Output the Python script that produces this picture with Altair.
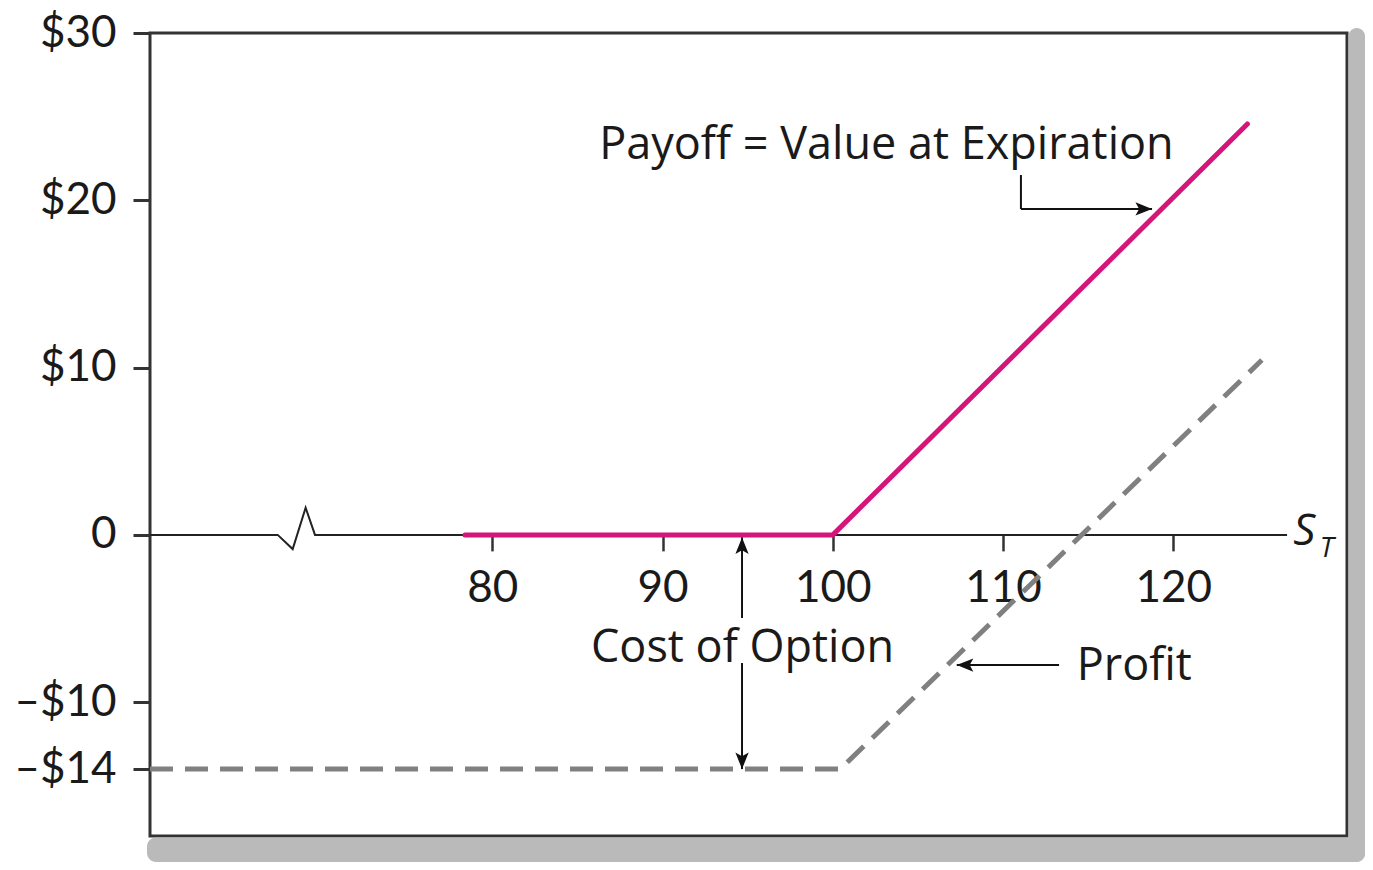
import altair as alt
import pandas as pd

# ---------------- data ----------------
x_ticks = [80, 90, 100, 110, 120]
y_ticks = [30, 20, 10, 0, -10, -14]
y_tick_labels = ["$30", "$20", "$10", "0", "–$10", "–$14"]

x_domain = [59.9, 130.2]
y_domain = [-18, 30]

# payoff = value at expiration (long call, strike 100)
payoff_x = [78.4, 100, 124.35]
payoff_y = [0, 0, 24.56]

# profit = payoff - cost of option
profit_x = [59.9, 100.44, 125.2]
profit_y = [-14, -14, 10.45]

# horizontal S_T axis with a break mark
axis_x = [59.9, 67.40, 68.28, 69.04, 69.59, 126.68]
axis_y = [0, 0, -0.85, 1.62, 0, 0]

# annotation arrows: segments and heads
seg_x = [111.05, 111.05, 94.67, 94.67, 113.29]
seg_y = [21.51, 19.48, -4.97, -7.66, -7.78]
seg_x2 = [111.05, 118.75, 94.67, 94.67, 107.28]
seg_y2 = [19.48, 19.48, -0.15, -14, -7.78]
head_x = [118.75, 94.67, 94.67, 107.28]
head_y = [19.48, -0.15, -14, -7.78]
head_angle = [0, 270, 90, 180]

# annotation texts
note_text = ["Payoff = Value at Expiration", "Cost of Option", "Profit"]
note_x = [103.15, 94.7, 114.33]
note_y = [22.45, -7.6, -8.67]
note_align = ["center", "center", "left"]

axis_name = ["S", "T"]
axis_name_x = [127.05, 128.6]
axis_name_y = [-0.61, -1.3]
axis_name_size = [44, 28]

# ---------------- layout ----------------
W, H = 1197, 803
FONT = "Lato"
NOTE_FONT = "Open Sans"
INK = "#1a1a1a"

xs = alt.Scale(domain=x_domain, nice=False, zero=False)
ys = alt.Scale(domain=y_domain, nice=False, zero=False)

zero_px = H * (y_domain[1] - 0) / (y_domain[1] - y_domain[0])
x_offset = -(H - zero_px)

label_expr = " : ".join(
    f"datum.value == {v} ? '{l}'" for v, l in zip(y_ticks, y_tick_labels)
) + " : ''"

x_axis = alt.Axis(
    values=x_ticks, domain=False, grid=False, ticks=True, tickSize=16,
    tickWidth=2.5, tickColor="#333", labelFontSize=44, labelFont=FONT,
    labelColor=INK, labelPadding=16, offset=x_offset, title=None,
)
y_axis = alt.Axis(
    values=y_ticks, domain=False, grid=False, ticks=True, tickSize=17,
    tickWidth=3, tickColor="#333", labelFontSize=44, labelFont=FONT,
    labelColor=INK, labelPadding=17, labelExpr=label_expr, title=None,
)

SH = "#bababa"
shadow_right = alt.Chart(pd.DataFrame({"a": [0]})).mark_rect(
    color=SH, cornerRadius=9
).encode(x=alt.value(W + 1.5), x2=alt.value(W + 18), y=alt.value(-5), y2=alt.value(H + 26))
shadow_bottom = alt.Chart(pd.DataFrame({"a": [0]})).mark_rect(
    color=SH, cornerRadius=9
).encode(x=alt.value(-3), x2=alt.value(W + 18), y=alt.value(H + 1.5), y2=alt.value(H + 26))

axis_df = pd.DataFrame({"x": axis_x, "y": axis_y, "o": list(range(len(axis_x)))})
axis_line = alt.Chart(axis_df).mark_line(color="#222", strokeWidth=2).encode(
    x=alt.X("x:Q", scale=xs, axis=x_axis),
    y=alt.Y("y:Q", scale=ys, axis=y_axis),
    order="o:Q",
)

profit_df = pd.DataFrame({"x": profit_x, "y": profit_y})
profit = alt.Chart(profit_df).mark_line(
    color="#808080", strokeWidth=5, strokeDash=[23, 12]
).encode(x=alt.X("x:Q", scale=xs), y=alt.Y("y:Q", scale=ys))

payoff_df = pd.DataFrame({"x": payoff_x, "y": payoff_y})
payoff = alt.Chart(payoff_df).mark_line(
    color="#d4157a", strokeWidth=5, strokeCap="round", strokeJoin="miter"
).encode(x=alt.X("x:Q", scale=xs), y=alt.Y("y:Q", scale=ys))

seg_df = pd.DataFrame({"x": seg_x, "y": seg_y, "x2": seg_x2, "y2": seg_y2})
segs = alt.Chart(seg_df).mark_rule(color="#111", strokeWidth=2).encode(
    x=alt.X("x:Q", scale=xs), y=alt.Y("y:Q", scale=ys), x2="x2:Q", y2="y2:Q"
)

head_df = pd.DataFrame({"x": head_x, "y": head_y, "a": head_angle})
heads = alt.Chart(head_df).mark_point(
    shape="M0,0 L-1,-0.4 L-0.78,0 L-1,0.4 Z", size=1100, filled=True,
    color="#111", opacity=1, strokeWidth=0,
).encode(
    x=alt.X("x:Q", scale=xs), y=alt.Y("y:Q", scale=ys),
    angle=alt.Angle("a:Q", scale=None),
)

note_layers = []
for t, x, y, a in zip(note_text, note_x, note_y, note_align):
    d = pd.DataFrame({"x": [x], "y": [y], "t": [t]})
    note_layers.append(
        alt.Chart(d).mark_text(
            font=NOTE_FONT, fontSize=45, color=INK, align=a, baseline="alphabetic"
        ).encode(x=alt.X("x:Q", scale=xs), y=alt.Y("y:Q", scale=ys), text="t:N")
    )

for t, x, y, s in zip(axis_name, axis_name_x, axis_name_y, axis_name_size):
    d = pd.DataFrame({"x": [x], "y": [y], "t": [t]})
    note_layers.append(
        alt.Chart(d).mark_text(
            font=NOTE_FONT, fontSize=s, fontStyle="italic", color=INK, align="left",
            baseline="alphabetic"
        ).encode(x=alt.X("x:Q", scale=xs), y=alt.Y("y:Q", scale=ys), text="t:N")
    )

chart = alt.layer(
    shadow_right, shadow_bottom, axis_line, profit, payoff, segs, heads, *note_layers
).properties(
    width=W, height=H,
    autosize=alt.AutoSizeParams(type="none"),
    padding={"left": 142, "top": 25, "right": 18, "bottom": 26},
    background="white",
).configure_view(
    stroke="#333", strokeWidth=3, fill="white"
)

chart.save("out.html", embed_options={"renderer": "svg", "actions": False})
